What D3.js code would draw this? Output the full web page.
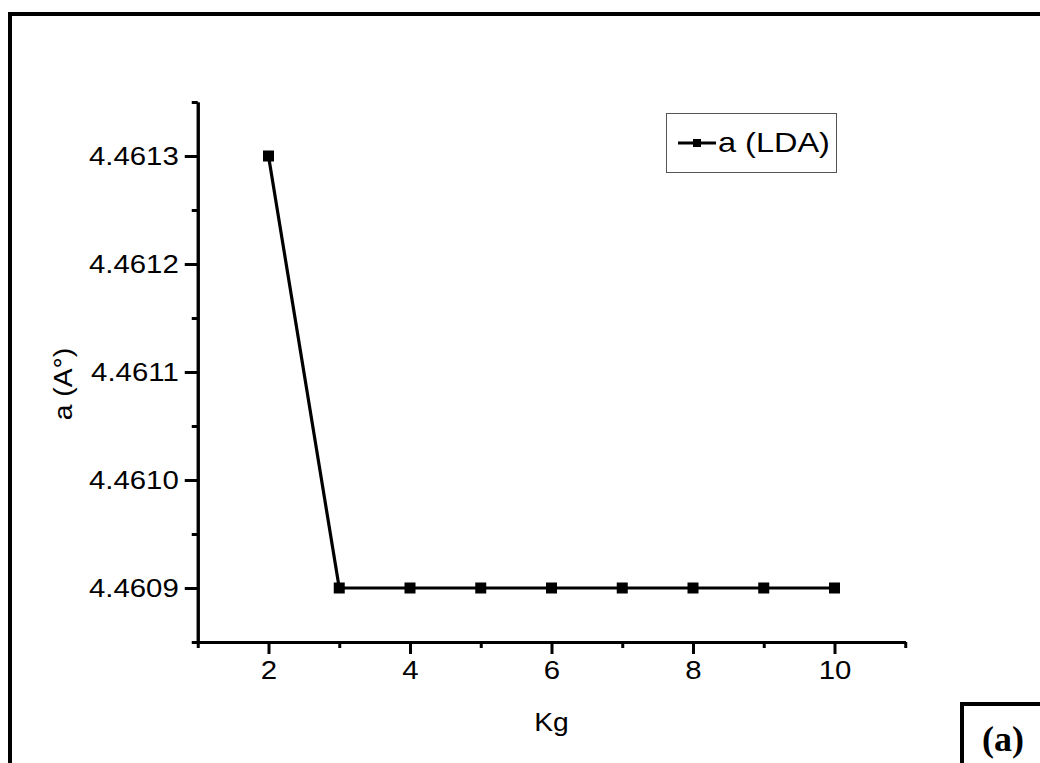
<!DOCTYPE html>
<html>
<head>
<meta charset="utf-8">
<script src="https://cdn.jsdelivr.net/npm/d3@7"></script>
<style>
  body { margin: 0; background: #fff; }
  svg { display: block; font-family: Arial, "Liberation Sans", sans-serif; }
</style>
</head>
<body>
<div id="container"></div>
<script>
/** CONSTANTS AND GLOBALS */
const width = 1040,
  height = 763,
  margin = { top: 102, bottom: 121, left: 197.75, right: 134.75 };

const stretch = 1.13; // glyphs in the original are a bit wider than Arial

// data
const kg = [2, 3, 4, 5, 6, 7, 8, 9, 10];
const aLDA = [4.4613, 4.4609, 4.4609, 4.4609, 4.4609, 4.4609, 4.4609, 4.4609, 4.4609];

// ticks
const xMajor = [2, 4, 6, 8, 10];
const xMinor = [1, 3, 5, 7, 9, 11];
const yMajor = [4.4609, 4.4610, 4.4611, 4.4612, 4.4613];
const yMinor = [4.46085, 4.46095, 4.46105, 4.46115, 4.46125, 4.46135];

const svg = d3.select("#container")
  .append("svg")
  .attr("width", width)
  .attr("height", height);

// outer frame (runs off right and bottom)
svg.append("path")
  .attr("d", `M${width + 10},14 H10 V${height + 10}`)
  .attr("fill", "none")
  .attr("stroke", "black")
  .attr("stroke-width", 4);

const x = d3.scaleLinear()
  .domain([1, 11])
  .range([margin.left, width - margin.right]);

const y = d3.scaleLinear()
  .domain([4.46085, 4.46135])
  .range([height - margin.bottom, margin.top]);

// x axis
const xAxisG = svg.append("g")
  .attr("transform", `translate(0,${height - margin.bottom})`);

xAxisG.append("g")
  .call(d3.axisBottom(x).tickValues(xMinor).tickSize(6).tickSizeOuter(0).tickFormat(""));

xAxisG.append("g")
  .attr("class", "xmajor")
  .call(d3.axisBottom(x).tickValues(xMajor).tickSize(12).tickSizeOuter(0).tickPadding(7));

// y axis
const yAxisG = svg.append("g")
  .attr("transform", `translate(${margin.left},0)`);

yAxisG.append("g")
  .call(d3.axisLeft(y).tickValues(yMinor).tickSize(6).tickSizeOuter(0).tickFormat(""));

yAxisG.append("g")
  .attr("class", "ymajor")
  .call(d3.axisLeft(y).tickValues(yMajor).tickSize(13).tickSizeOuter(0).tickPadding(6)
    .tickFormat(d3.format(".4f")));

svg.selectAll(".domain, .tick line")
  .attr("stroke", "black")
  .attr("stroke-width", 3);

svg.selectAll(".tick text")
  .attr("font-size", 26)
  .attr("font-family", "Arial, 'Liberation Sans', sans-serif")
  .attr("fill", "black");

svg.selectAll(".xmajor .tick text")
  .attr("transform", `scale(${stretch},1)`);

svg.selectAll(".ymajor .tick text")
  .attr("x", -19 / stretch)
  .attr("transform", `scale(${stretch},1)`);

// axis titles
svg.append("text")
  .attr("transform", `translate(${(x.range()[0] + x.range()[1]) / 2},731) scale(${stretch},1)`)
  .attr("text-anchor", "middle")
  .attr("font-size", 25)
  .text("Kg");

svg.append("text")
  .attr("transform", `translate(72,384) rotate(-90) scale(${stretch},1)`)
  .attr("text-anchor", "middle")
  .attr("font-size", 25)
  .text("a (A°)");

// series
const line = d3.line()
  .x((d, i) => x(kg[i]))
  .y(d => y(d));

svg.append("path")
  .datum(aLDA)
  .attr("d", line)
  .attr("fill", "none")
  .attr("stroke", "black")
  .attr("stroke-width", 3.2);

const sq = 11;
svg.selectAll(".pt")
  .data(aLDA)
  .join("rect")
  .attr("class", "pt")
  .attr("x", (d, i) => x(kg[i]) - sq / 2)
  .attr("y", d => y(d) - sq / 2)
  .attr("width", sq)
  .attr("height", sq)
  .attr("fill", "black");

// legend
const legend = svg.append("g");
legend.append("rect")
  .attr("x", 666.5)
  .attr("y", 113.5)
  .attr("width", 170)
  .attr("height", 59)
  .attr("fill", "white")
  .attr("stroke", "#555")
  .attr("stroke-width", 1);

legend.append("line")
  .attr("x1", 678).attr("x2", 716)
  .attr("y1", 143).attr("y2", 143)
  .attr("stroke", "black")
  .attr("stroke-width", 3);

legend.append("rect")
  .attr("x", 693).attr("y", 139)
  .attr("width", 8).attr("height", 8)
  .attr("fill", "black");

legend.append("text")
  .attr("transform", `translate(718,152) scale(1.16,1)`)
  .attr("font-size", 28)
  .text("a (LDA)");

// panel label box
svg.append("path")
  .attr("d", `M962,${height + 10} V704 H${width + 10}`)
  .attr("fill", "none")
  .attr("stroke", "black")
  .attr("stroke-width", 4);

svg.append("text")
  .attr("x", 982)
  .attr("y", 751)
  .attr("font-family", "'Times New Roman', 'Liberation Serif', serif")
  .attr("font-weight", "bold")
  .attr("font-size", 36)
  .text("(a)");
</script>
</body>
</html>
